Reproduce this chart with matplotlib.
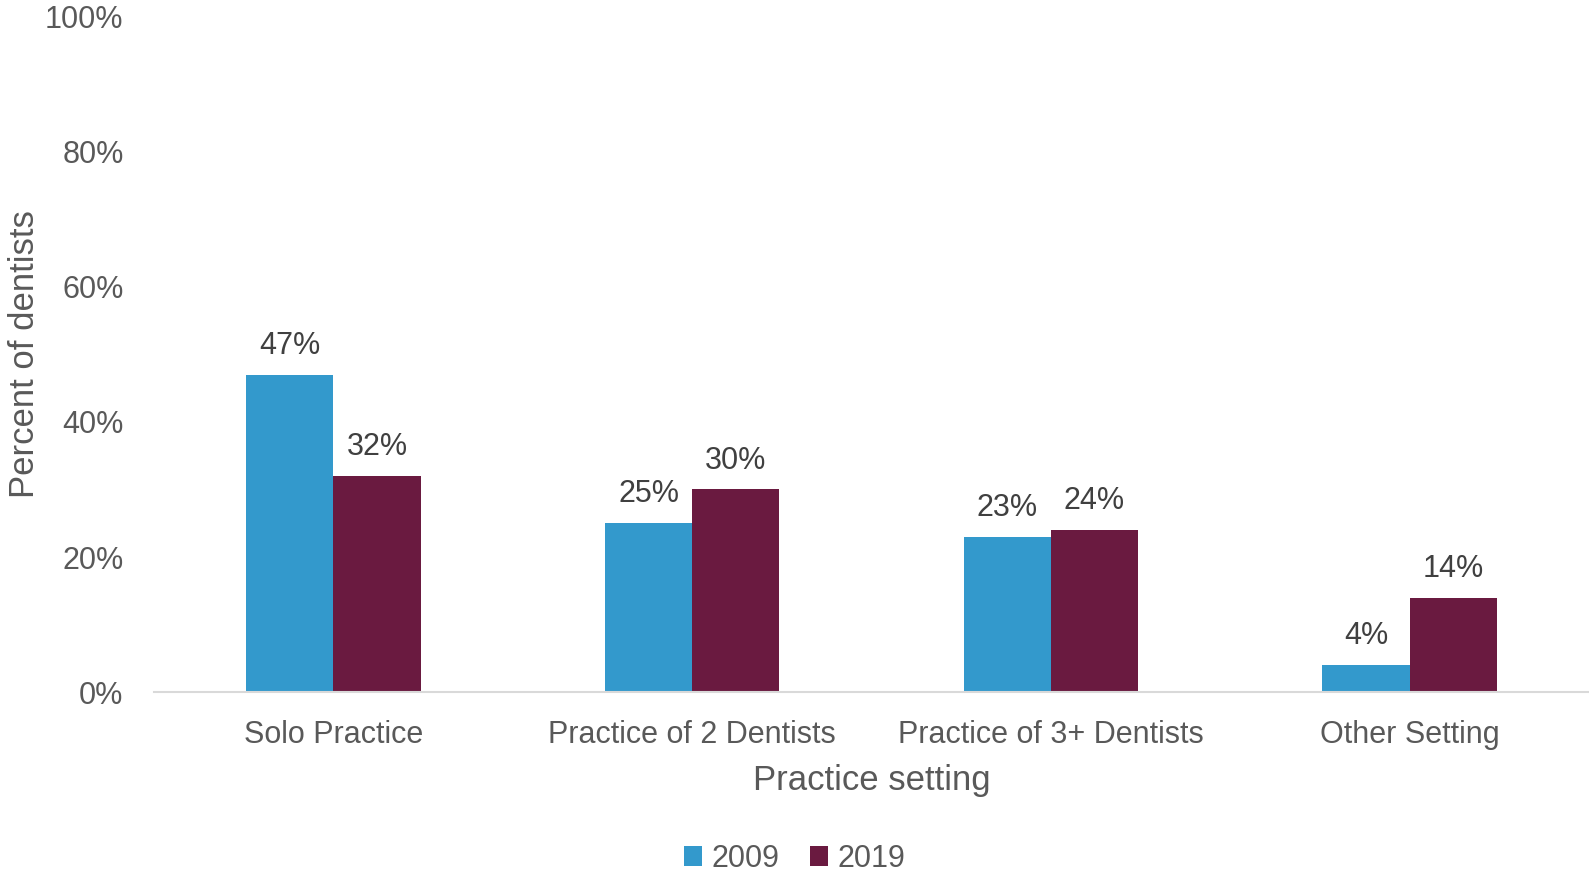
import numpy as np
import matplotlib.pyplot as plt

plt.rcParams['font.family'] = ['Liberation Sans', 'DejaVu Sans']

categories = ['Solo Practice', 'Practice of 2 Dentists', 'Practice of 3+ Dentists', 'Other Setting']
years = ['2009', '2019']
vals_2009 = [47, 25, 23, 4]
vals_2019 = [32, 30, 24, 14]
colors = ['#3399CC', '#6A1A40']

grey = '#595959'
fig = plt.figure(figsize=(15.89, 8.75), dpi=100)
ax = fig.add_axes([0.097, 0.209, 0.903, 0.772])

x = np.arange(len(categories))
w = 0.243
b1 = ax.bar(x - w/2, vals_2009, w, color=colors[0], label=years[0])
b2 = ax.bar(x + w/2, vals_2019, w, color=colors[1], label=years[1])

for bars in (b1, b2):
    for r in bars:
        ax.annotate('%d%%' % r.get_height(), (r.get_x() + r.get_width()/2, r.get_height()),
                    xytext=(0, 10), textcoords='offset points', ha='center', va='bottom',
                    fontsize=22, color='#404040')

ax.set_xlim(-0.5, 3.5)
ax.set_ylim(0, 100)
ax.set_yticks(range(0, 101, 20))
ax.set_yticklabels(['%d%%' % v for v in range(0, 101, 20)])
ax.set_xticks(x)
ax.set_xticklabels(categories)
ax.tick_params(axis='both', length=0, labelsize=22, labelcolor=grey)
ax.tick_params(axis='y', pad=22)
ax.tick_params(axis='x', pad=20)
for s in ['top', 'right', 'left']:
    ax.spines[s].set_visible(False)
ax.spines['bottom'].set_color('#D9D9D9')
ax.spines['bottom'].set_linewidth(1.5)

ax.set_xlabel('Practice setting', fontsize=25, color=grey, labelpad=10)
ax.set_ylabel('Percent of dentists', fontsize=25, color=grey)
ax.yaxis.set_label_coords(-0.079, 0.5)

fig.legend(loc='lower center', ncol=2, frameon=False, fontsize=22, handlelength=0.6,
           handleheight=0.6, handletextpad=0.3, columnspacing=1.0, bbox_to_anchor=(0.5, -0.03),
           labelcolor=grey)

fig.savefig('out.png', dpi=100)
